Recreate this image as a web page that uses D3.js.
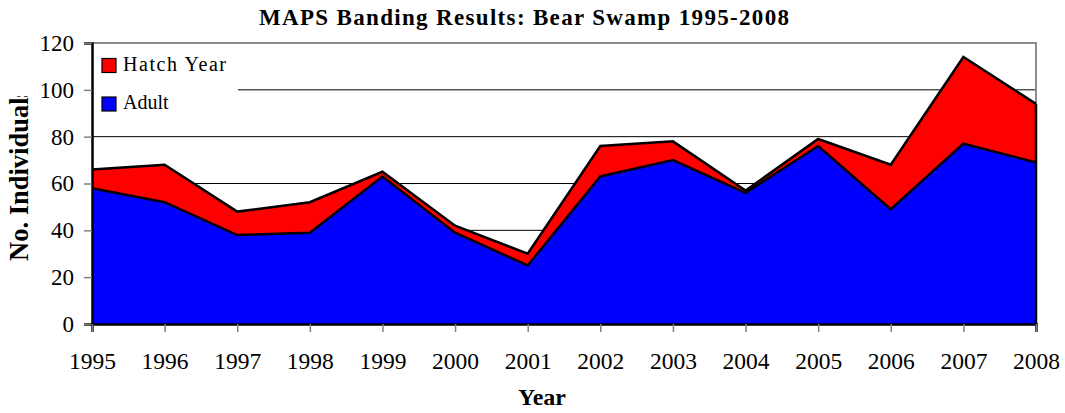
<!DOCTYPE html>
<html>
<head>
<meta charset="utf-8">
<script src="https://cdn.jsdelivr.net/npm/d3@7"></script>
<style>
  html, body { margin: 0; padding: 0; background: #fff; }
  svg { display: block; }
  svg text { font-family: "Liberation Serif", "Times New Roman", serif; }
</style>
</head>
<body>
<svg id="chart" width="1065" height="413"></svg>
<script>
// MAPS banding totals per season at Bear Swamp
const years = ["1995","1996","1997","1998","1999","2000","2001","2002","2003","2004","2005","2006","2007","2008"];
const adult = [58, 52, 38, 39, 63, 39, 25, 63, 70, 56, 76, 49, 77, 69];
const hatchYear = [8, 16, 10, 13, 2, 3, 5, 13, 8, 1, 3, 19, 37, 25];
const yTicks = [0, 20, 40, 60, 80, 100, 120];
const seriesNames = ["Hatch Year", "Adult"];
const seriesColors = { "Adult": "#0000ff", "Hatch Year": "#ff0000" };

const FONT = "'Liberation Serif', 'Times New Roman', serif";
const svg = d3.select("#chart");
const plot = { left: 92, right: 1036, top: 43, bottom: 324 };

const x = d3.scalePoint().domain(years).range([plot.left, plot.right]);
const y = d3.scaleLinear().domain([0, 120]).range([plot.bottom, plot.top]);

const rows = years.map((yr, i) => ({ year: yr, "Adult": adult[i], "Hatch Year": hatchYear[i] }));
const stacked = d3.stack().keys(["Adult", "Hatch Year"])(rows);

// horizontal gridlines
svg.append("g")
  .selectAll("line")
  .data(yTicks.filter(t => t > 0 && t < 120))
  .join("line")
  .attr("x1", plot.left).attr("x2", plot.right)
  .attr("y1", d => y(d)).attr("y2", d => y(d))
  .attr("stroke", "#000").attr("stroke-width", 1);

// frame: top and right in grey
svg.append("path")
  .attr("d", `M${plot.left},${y(120)}H${plot.right}V${plot.bottom}`)
  .attr("fill", "none").attr("stroke", "#8c8c8c").attr("stroke-width", 2);

// stacked areas
const area = d3.area()
  .x(d => x(d.data.year))
  .y0(d => y(d[0]))
  .y1(d => y(d[1]));

svg.append("g")
  .selectAll("path")
  .data(stacked)
  .join("path")
  .attr("d", area)
  .attr("fill", d => seriesColors[d.key]);

// outlines along each series top edge
const topLine = d3.line()
  .x(d => x(d.data.year))
  .y(d => y(d[1]));

svg.append("g")
  .selectAll("path")
  .data(stacked)
  .join("path")
  .attr("d", topLine)
  .attr("fill", "none")
  .attr("stroke", "#000")
  .attr("stroke-width", 2.5)
  .attr("stroke-linejoin", "miter");

// right edge of the filled region
const last = stacked[stacked.length - 1][years.length - 1];
svg.append("line")
  .attr("x1", x(years[years.length - 1])).attr("x2", x(years[years.length - 1]))
  .attr("y1", y(last[1])).attr("y2", y(0))
  .attr("stroke", "#000").attr("stroke-width", 2.5);

// legend
const legend = svg.append("g");
legend.append("rect")
  .attr("x", plot.left + 1).attr("y", plot.top + 1)
  .attr("width", 145).attr("height", 78)
  .attr("fill", "#fff");
seriesNames.forEach((name, i) => {
  const top = 58.5 + i * 38.5;
  legend.append("rect")
    .attr("x", 102).attr("y", top)
    .attr("width", 14).attr("height", 14)
    .attr("fill", seriesColors[name])
    .attr("stroke", "#000").attr("stroke-width", 1.2);
  const t = legend.append("text")
    .attr("x", 123).attr("y", top + 12)
    .style("font-family", FONT)
    .attr("font-size", 20)
    .attr("fill", "#000")
    .text(name);
  if (name === "Hatch Year") t.attr("textLength", 103).attr("lengthAdjust", "spacing");
});

// y axis
const yAxis = svg.append("g")
  .attr("transform", `translate(${plot.left},0)`)
  .call(d3.axisLeft(y).tickValues(yTicks).tickSize(8).tickPadding(10));
yAxis.select(".domain").attr("stroke", "#000").attr("stroke-width", 2.5);
yAxis.selectAll(".tick line").attr("stroke", "#808080").attr("stroke-width", 1.5);
yAxis.selectAll(".tick text")
  .style("font-family", FONT)
  .attr("font-size", 23).attr("fill", "#000");

// x axis
const xAxis = svg.append("g")
  .attr("transform", `translate(0,${plot.bottom})`)
  .call(d3.axisBottom(x).tickSize(8).tickPadding(20));
xAxis.select(".domain").attr("stroke", "#000").attr("stroke-width", 2.5);
xAxis.selectAll(".tick line").attr("stroke", "#808080").attr("stroke-width", 1.5);
xAxis.selectAll(".tick text")
  .style("font-family", FONT)
  .attr("font-size", 23.5).attr("fill", "#000");

// title
svg.append("text")
  .attr("x", 524).attr("y", 25)
  .attr("text-anchor", "middle")
  .style("font-family", FONT)
  .attr("font-size", 23).attr("font-weight", "bold")
  .attr("textLength", 530).attr("lengthAdjust", "spacing")
  .text("MAPS Banding Results: Bear Swamp 1995-2008");

// axis titles
svg.append("text")
  .attr("x", 542).attr("y", 405)
  .attr("text-anchor", "middle")
  .style("font-family", FONT)
  .attr("font-size", 24).attr("font-weight", "bold")
  .text("Year");

svg.append("clipPath").attr("id", "ylabel-clip")
  .append("rect").attr("x", 0).attr("y", 96).attr("width", 60).attr("height", 300);
svg.append("g")
  .attr("clip-path", "url(#ylabel-clip)")
  .append("text")
  .attr("transform", "translate(28,261) rotate(-90)")
  .attr("text-anchor", "start")
  .style("font-family", FONT)
  .attr("font-size", 26.5).attr("font-weight", "bold")
  .text("No. Individuals");
</script>
</body>
</html>
